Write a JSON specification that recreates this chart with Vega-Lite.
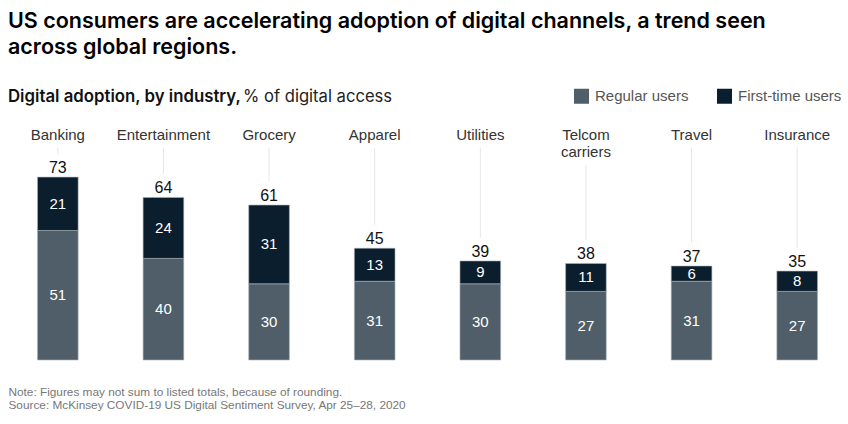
{
  "$schema": "https://vega.github.io/schema/vega-lite/v6.json",
  "width": 845,
  "height": 212.5,
  "autosize": "none",
  "padding": {"left": 5, "top": 147.5, "right": 0, "bottom": 64},
  "background": "white",
  "config": {"view": {"stroke": null}, "font": "Liberation Sans"},
  "title": {
    "text": ["US consumers are accelerating adoption of digital channels, a trend seen", "across global regions."],
    "anchor": "start",
    "frame": "group",
    "dx": 3,
    "font": "Inter",
    "fontSize": 21.5,
    "fontWeight": 600,
    "color": "#000000",
    "lineHeight": 26.5,
    "subtitle": "Digital adoption, by industry,",
    "subtitleFont": "Inter",
    "subtitleFontSize": 16.8,
    "subtitleFontWeight": 600,
    "subtitleColor": "#111111",
    "subtitlePadding": 30,
    "offset": -17
  },
  "datasets": {
    "bars": [
      {"industry": "Banking", "users": "Regular users", "value": 51, "total": 73},
      {"industry": "Banking", "users": "First-time users", "value": 21, "total": 73},
      {"industry": "Entertainment", "users": "Regular users", "value": 40, "total": 64},
      {"industry": "Entertainment", "users": "First-time users", "value": 24, "total": 64},
      {"industry": "Grocery", "users": "Regular users", "value": 30, "total": 61},
      {"industry": "Grocery", "users": "First-time users", "value": 31, "total": 61},
      {"industry": "Apparel", "users": "Regular users", "value": 31, "total": 45},
      {"industry": "Apparel", "users": "First-time users", "value": 13, "total": 45},
      {"industry": "Utilities", "users": "Regular users", "value": 30, "total": 39},
      {"industry": "Utilities", "users": "First-time users", "value": 9, "total": 39},
      {"industry": "Telcom carriers", "users": "Regular users", "value": 27, "total": 38},
      {"industry": "Telcom carriers", "users": "First-time users", "value": 11, "total": 38},
      {"industry": "Travel", "users": "Regular users", "value": 31, "total": 37},
      {"industry": "Travel", "users": "First-time users", "value": 6, "total": 37},
      {"industry": "Insurance", "users": "Regular users", "value": 27, "total": 35},
      {"industry": "Insurance", "users": "First-time users", "value": 8, "total": 35}
    ]
  },
  "data": {"name": "bars"},
  "encoding": {
    "x": {
      "field": "industry",
      "type": "nominal",
      "sort": ["Banking", "Entertainment", "Grocery", "Apparel", "Utilities", "Telcom carriers", "Travel", "Insurance"],
      "scale": {"paddingInner": 0.615, "paddingOuter": 0.3075},
      "axis": {
        "orient": "top",
        "domain": false,
        "ticks": false,
        "grid": false,
        "labelAngle": 0,
        "labelBaseline": "top",
        "labelPadding": 20,
        "labelFontSize": 15,
        "labelColor": "#333333",
        "labelLineHeight": 17,
        "labelOverlap": false,
        "labelLimit": 0,
        "labelExpr": "datum.label == 'Telcom carriers' ? ['Telcom', 'carriers'] : datum.label",
        "title": ["Note: Figures may not sum to listed totals, because of rounding.", "Source: McKinsey COVID-19 US Digital Sentiment Survey, Apr 25\u201328, 2020"],
        "titleX": 3,
        "titleY": 247.5,
        "titleAlign": "left",
        "titleAnchor": null,
        "titleAngle": 0,
        "titleBaseline": "alphabetic",
        "titleFontSize": 11.8,
        "titleFontWeight": "normal",
        "titleColor": "#777777",
        "titleLineHeight": 13.5
      }
    }
  },
  "layer": [
    {
      "mark": {"type": "bar", "stroke": "#a9b3ba", "strokeWidth": 0.6},
      "encoding": {
        "y": {
          "field": "value",
          "type": "quantitative",
          "stack": "zero",
          "scale": {"domain": [0, 83.66], "nice": false},
          "axis": null
        },
        "color": {
          "field": "users",
          "type": "nominal",
          "scale": {"domain": ["Regular users", "First-time users"], "range": ["#4f5e68", "#0b1e2d"]},
          "legend": {
            "title": "% of digital access",
            "titleOrient": "left",
            "titleFont": "Inter",
            "titleFontSize": 16.6,
            "titleFontWeight": "normal",
            "titleColor": "#222222",
            "titleAnchor": "middle",
            "titleBaseline": "middle",
            "titlePadding": 181,
            "titleLimit": 400,
            "orient": "none",
            "legendX": 238,
            "legendY": -59,
            "direction": "horizontal",
            "symbolType": "square",
            "symbolSize": 225,
            "symbolStrokeWidth": 0,
            "symbolOpacity": 1,
            "labelFont": "Liberation Sans",
            "labelFontSize": 15,
            "labelColor": "#555555",
            "labelOffset": 6,
            "columnPadding": 28,
            "padding": 0
          }
        },
        "order": {"field": "users", "sort": "descending"}
      }
    },
    {
      "transform": [
        {"joinaggregate": [{"op": "sum", "field": "value", "as": "top"}], "groupby": ["industry"]},
        {"filter": "datum.users == 'First-time users' && datum.industry != 'Telcom carriers'"}
      ],
      "mark": {"type": "rule", "color": "#e6e6e6", "strokeWidth": 1, "yOffset": -23.5},
      "encoding": {
        "y": {"field": "top", "type": "quantitative", "scale": {"domain": [0, 83.66], "nice": false}, "axis": null},
        "y2": {"datum": 83.66}
      }
    },
    {
      "transform": [
        {"joinaggregate": [{"op": "sum", "field": "value", "as": "top"}], "groupby": ["industry"]},
        {"filter": "datum.users == 'First-time users' && datum.industry == 'Telcom carriers'"}
      ],
      "mark": {"type": "rule", "color": "#e6e6e6", "strokeWidth": 1, "yOffset": -23.5, "y2Offset": 17.5},
      "encoding": {
        "y": {"field": "top", "type": "quantitative", "scale": {"domain": [0, 83.66], "nice": false}, "axis": null},
        "y2": {"datum": 83.66}
      }
    },
    {
      "mark": {"type": "text", "color": "white", "fontSize": 15, "baseline": "middle"},
      "encoding": {
        "y": {"field": "value", "type": "quantitative", "stack": "zero", "bandPosition": 0.5, "scale": {"domain": [0, 83.66], "nice": false}, "axis": null},
        "order": {"field": "users", "sort": "descending"},
        "detail": {"field": "users"},
        "text": {"field": "value", "type": "quantitative"}
      }
    },
    {
      "transform": [
        {"joinaggregate": [{"op": "sum", "field": "value", "as": "top"}], "groupby": ["industry"]},
        {"filter": "datum.users == 'First-time users'"}
      ],
      "mark": {"type": "text", "color": "#111111", "fontSize": 16, "baseline": "alphabetic", "dy": -4},
      "encoding": {
        "y": {"field": "top", "type": "quantitative", "scale": {"domain": [0, 83.66], "nice": false}, "axis": null},
        "text": {"field": "total", "type": "quantitative"}
      }
    }
  ]
}
